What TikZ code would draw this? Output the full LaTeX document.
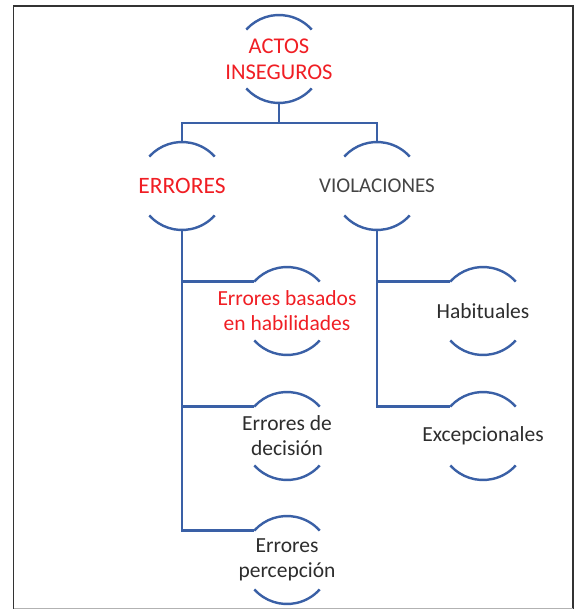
\documentclass[tikz,border=0pt]{standalone}
\usepackage{fontspec}
\setmainfont{Carlito}
\definecolor{linkblue}{RGB}{58,96,166}
\definecolor{txtred}{RGB}{240,30,36}
\definecolor{txtdark}{RGB}{45,45,45}
\definecolor{txtgrey}{RGB}{68,68,68}
\tikzset{
  lnk/.style = {draw=linkblue, line width=2.4pt},
  frame/.style = {draw=black!80, line width=1.6pt},
  lbl/.style = {align=center, inner sep=0pt, font=\fontsize{21.5}{25}\selectfont},
  redlbl/.style = {lbl, text=txtred},
  darklbl/.style = {lbl, text=txtdark}
}

\begin{document}
\begin{tikzpicture} [x = 1pt, y = 1pt]
\useasboundingbox (0, 0) rectangle (574, -610);
\draw[frame] (13.5, -608.5) -- (13.5, -6) -- (573, -6) -- (573, -608.5);
\draw[black!30, line width=1.2pt] (13.5, -608.5) -- (573, -608.5);
\node[redlbl, font=\fontsize{22.5}{26}\selectfont] (actos) at (279, -59) {ACTOS\\INSEGUROS};
\node[redlbl, font=\fontsize{23.5}{26}\selectfont] (errores) at (182, -186) {ERRORES};
\node[lbl, text=txtgrey, font=\fontsize{21}{25}\selectfont] (violaciones) at (377, -186) {VIOLACIONES};
\node[redlbl] (habil) at (287, -311) {Errores basados\\en habilidades};
\node[darklbl] (decision) at (287, -436) {Errores de\\decisión};
\node[darklbl] (percep) at (287, -560) {Errores\\percepción};
\node[darklbl] (habitual) at (483, -311) {Habituales};
\node[darklbl] (excep) at (483, -436) {Excepcionales};
\foreach \n in {actos, errores, violaciones, habil, decision, percep, habitual, excep} {
  \coordinate (\n-top) at ([yshift=44pt]\n.center);
  \coordinate (\n-bot) at ([yshift=-44pt]\n.center);
  \coordinate (\n-in) at ([shift={(138:44pt)}]\n.center);
  \draw[lnk] (\n-in) arc (138:42:44pt);
  \draw[lnk] ([shift={(222:44pt)}]\n.center) arc (222:318:44pt);
}
\draw[lnk] (actos-bot) -- ++(0, -20) coordinate (split);
\draw[lnk] (errores-top) |- (split) -| (violaciones-top);
\draw[lnk] (errores-bot) |- (percep-in);
\draw[lnk] (habil-in) -- (habil-in -| errores-bot);
\draw[lnk] (decision-in) -- (decision-in -| errores-bot);
\draw[lnk] (violaciones-bot) |- (excep-in);
\draw[lnk] (habitual-in) -- (habitual-in -| violaciones-bot);
\end{tikzpicture}
\end{document}
